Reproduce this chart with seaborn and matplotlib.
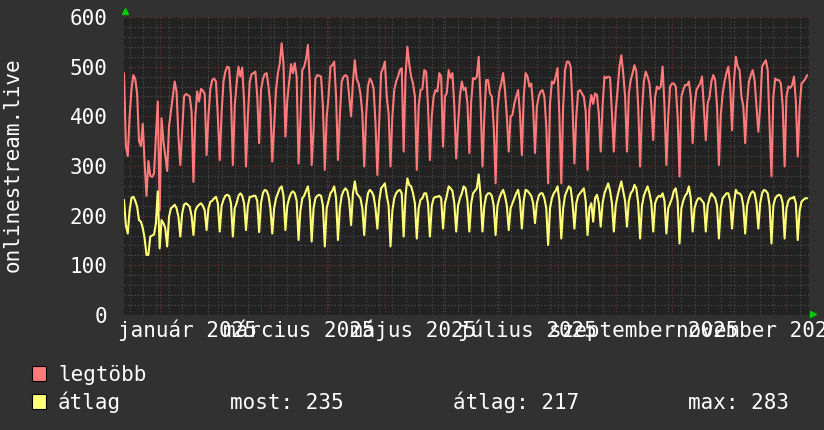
import pandas as pd
import matplotlib
matplotlib.use("Agg")
import matplotlib.pyplot as plt
import matplotlib.dates as mdates
from matplotlib.patches import Rectangle
from matplotlib.ticker import MultipleLocator, NullFormatter
import seaborn as sns

# napi adatok: 2024-12-13 -> 2025-12-12
kezdet = "2024-12-13"
veg = "2025-12-13"

legtobb = [
    487, 340, 320, 400, 455, 483, 475, 445, 350, 340, 385, 305, 240, 310, 280,
    278, 285, 360, 430, 211, 396, 350, 320, 290, 380, 410, 440, 470, 450, 360,
    302, 372, 440, 445, 443, 440, 410,
    268, 400, 450, 430, 455, 452, 445,
    322, 400, 455, 473, 476, 470, 400,
    312, 406, 470, 490, 500, 498, 440,
    302, 420, 466, 500, 480, 498, 430,
    299, 400, 470, 485, 487, 490, 440,
    346, 453, 475, 485, 487, 460, 420,
    309, 380, 453, 487, 507, 547, 505,
    359, 433, 470, 505, 487, 507, 480,
    305, 393, 493, 500, 515, 544, 470,
    302, 372, 476, 483, 482, 480, 419,
    292, 399, 440, 500, 503, 510, 440,
    312, 400, 470, 480, 483, 480, 440,
    400, 470, 513, 475, 466, 445, 406,
    299, 400, 460, 476, 470, 456, 386,
    282, 390, 487, 497, 510, 440, 405,
    299, 400, 453, 470, 480, 493, 497,
    329, 480, 540, 505, 480, 466, 440,
    292, 420, 453, 455, 493, 490, 420,
    312, 400, 440, 453, 450, 487, 480,
    339, 440, 447, 493, 477, 487, 420,
    315, 383, 440, 470, 453, 458, 426,
    326, 430, 477, 475, 480, 520, 430,
    299, 399, 473, 473, 446, 440, 380,
    265, 413, 450, 466, 487, 453, 400,
    329, 400, 403, 426, 440, 453, 405,
    322, 440, 487, 480, 460, 466, 420,
    326, 419, 440, 450, 453, 440, 380,
    265, 426, 470, 466, 480, 497, 400,
    265, 420, 493, 510, 510, 500, 420,
    305, 400, 450, 453, 446, 440, 410,
    292, 416, 443, 425, 446, 443, 405,
    329, 420, 480, 477, 480, 478, 406,
    329, 410, 453, 500, 523, 487, 440,
    329, 446, 473, 487, 503, 490, 419,
    299, 410, 470, 490, 480, 466, 420,
    352, 440, 460, 455, 460, 500, 420,
    302, 400, 460, 466, 466, 460, 400,
    279, 440, 453, 463, 463, 470, 440,
    346, 420, 453, 460, 466, 480, 416,
    352, 426, 439, 470, 483, 473, 420,
    302, 403, 446, 470, 487, 500, 460,
    372, 470, 520, 500, 493, 440, 420,
    346, 426, 470, 483, 493, 473, 420,
    369, 420, 500, 507, 513, 493, 380,
    279, 440, 476, 473, 473, 466, 420,
    299, 440, 460, 457, 463, 480, 430,
    319, 419, 466, 470, 475, 483,
]

atlag = [
    232, 180, 164, 211, 236, 238, 230, 218, 191, 188, 175, 154, 121, 121, 158,
    160, 162, 185, 249, 134, 191, 185, 175, 138, 198, 215, 218, 222, 215, 198,
    158, 205, 222, 225, 222, 218, 200,
    161, 210, 218, 222, 225, 220, 211,
    171, 215, 228, 230, 235, 238, 225,
    168, 220, 232, 240, 242, 240, 225,
    158, 215, 225, 240, 245, 240, 225,
    171, 220, 238, 238, 240, 240, 230,
    167, 225, 245, 252, 250, 240, 215,
    164, 215, 235, 245, 255, 259, 240,
    171, 220, 235, 245, 249, 245, 230,
    151, 210, 235, 240, 250, 259, 230,
    148, 215, 235, 240, 242, 240, 220,
    138, 215, 230, 245, 250, 259, 235,
    151, 215, 240, 250, 255, 250, 230,
    181, 245, 269, 245, 240, 235, 215,
    161, 220, 245, 252, 248, 240, 215,
    174, 230, 255, 260, 265, 240, 220,
    138, 210, 235, 245, 250, 252, 245,
    158, 240, 275, 262, 259, 245, 225,
    154, 215, 232, 235, 245, 245, 225,
    158, 220, 235, 238, 238, 240, 235,
    174, 225, 240, 259, 255, 250, 225,
    168, 220, 235, 245, 259, 255, 230,
    168, 225, 245, 250, 255, 283, 240,
    168, 220, 240, 245, 245, 240, 220,
    161, 220, 235, 245, 252, 240, 220,
    171, 215, 225, 235, 245, 252, 230,
    174, 230, 252, 250, 245, 240, 225,
    185, 225, 240, 245, 245, 235, 215,
    141, 215, 235, 245, 250, 259, 230,
    154, 215, 240, 250, 259, 255, 225,
    174, 225, 240, 245, 250, 255, 230,
    161, 215, 225, 188, 235, 242, 225,
    178, 225, 245, 255, 265, 250, 225,
    168, 220, 240, 255, 269, 250, 230,
    178, 230, 245, 250, 262, 255, 225,
    154, 220, 240, 250, 259, 245, 225,
    168, 225, 235, 240, 238, 245, 230,
    164, 215, 225, 235, 250, 255, 230,
    144, 215, 230, 240, 245, 259, 235,
    168, 215, 228, 235, 235, 230, 225,
    168, 220, 235, 245, 240, 235, 220,
    154, 215, 235, 240, 245, 245, 230,
    174, 225, 252, 245, 245, 240, 220,
    164, 220, 235, 245, 249, 245, 225,
    174, 225, 245, 252, 250, 245, 220,
    144, 220, 235, 240, 242, 240, 225,
    154, 215, 230, 235, 235, 238, 225,
    151, 210, 228, 232, 235, 235,
]

cimke_honapok = [1, 3, 5, 7, 9, 11]
cimkek = ["január 2025", "március 2025", "május 2025",
          "július 2025", "szeptember 2025", "november 2025"]

most = 235
atlag_ossz = 217
maximum = 283

PIROS = "#ff7a7a"
SARGA = "#ffff78"
HATTER = "#313131"
VASZON = "#222222"
RACS_KICSI = "#525252"
RACS_NAGY = "#7a3434"

sns.set_theme(style="dark")
plt.rcParams["font.family"] = ["DejaVu Sans Mono", "DejaVu Sans"]

df = pd.DataFrame({
    "datum": pd.date_range(kezdet, periods=len(legtobb), freq="D"),
    "legtobb": legtobb,
    "atlag": atlag,
})

fig = plt.figure(figsize=(8.24, 4.30), dpi=100, facecolor=HATTER)
ax = fig.add_axes([124 / 824, 1 - 315 / 430, 685 / 824, 298 / 430])
ax.set_facecolor(VASZON)

sns.lineplot(data=df, x="datum", y="legtobb", ax=ax, color=PIROS, linewidth=1.5)
sns.lineplot(data=df, x="datum", y="atlag", ax=ax, color=SARGA, linewidth=1.5)

ax.set_xlim(pd.Timestamp(kezdet), pd.Timestamp(veg))
ax.set_ylim(0, 600)
ax.set_xlabel("")
ax.set_ylabel("")

ax.yaxis.set_major_locator(MultipleLocator(100))
ax.yaxis.set_minor_locator(MultipleLocator(20))
ax.xaxis.set_major_locator(mdates.MonthLocator())
ax.xaxis.set_minor_locator(mdates.WeekdayLocator(byweekday=mdates.MO))
ax.xaxis.set_major_formatter(NullFormatter())
ax.xaxis.set_minor_formatter(NullFormatter())

ax.set_axisbelow(True)
ax.grid(which="minor", color=RACS_KICSI, linestyle=(0, (1, 2)), linewidth=0.8)
ax.grid(which="major", color=RACS_NAGY, linestyle=(0, (1, 2)), linewidth=0.8)

ax.tick_params(axis="y", which="both", length=0, pad=12, labelsize=15, labelcolor="white")
ax.tick_params(axis="x", which="major", length=3, color=RACS_NAGY, direction="out", width=1)
ax.tick_params(axis="x", which="minor", length=0)
for s in ax.spines.values():
    s.set_visible(False)

# honap cimkek a honap kozepere
for m, txt in zip(cimke_honapok, cimkek):
    d = pd.Timestamp(2025, m, 1) + pd.Timedelta(days=15)
    ax.text(d, -0.074, txt, transform=ax.get_xaxis_transform(), ha="center",
            va="baseline", fontsize=15, color="white", clip_on=False)

# zold nyilak
ax.plot([0.0015], [1.019], marker="^", color="#00cc00", markersize=4,
        transform=ax.transAxes, clip_on=False)
ax.plot([1.0058], [0.004], marker=">", color="#00cc00", markersize=4,
        transform=ax.transAxes, clip_on=False)

fig.text(13 / 824, 1 - 165 / 430, "onlinestream.live", rotation=90, ha="center",
         va="center", fontsize=15, color="white")

# jelmagyarazat
fig.add_artist(Rectangle((32 / 824, 49 / 430), 14 / 824, 15 / 430, transform=fig.transFigure,
                         facecolor=PIROS, edgecolor="black", linewidth=0.8))
fig.add_artist(Rectangle((32 / 824, 21 / 430), 14 / 824, 15 / 430, transform=fig.transFigure,
                         facecolor=SARGA, edgecolor="black", linewidth=0.8))
fig.text(58 / 824, 49 / 430, "legtöbb", va="baseline", fontsize=15, color="white")
fig.text(58 / 824, 21 / 430, "átlag", va="baseline", fontsize=15, color="white")
fig.text(230 / 824, 21 / 430, f"most: {most}", va="baseline", fontsize=15, color="white")
fig.text(453 / 824, 21 / 430, f"átlag: {atlag_ossz}", va="baseline", fontsize=15, color="white")
fig.text(688 / 824, 21 / 430, f"max: {maximum}", va="baseline", fontsize=15, color="white")

fig.savefig("out.png", dpi=100, facecolor=HATTER)
